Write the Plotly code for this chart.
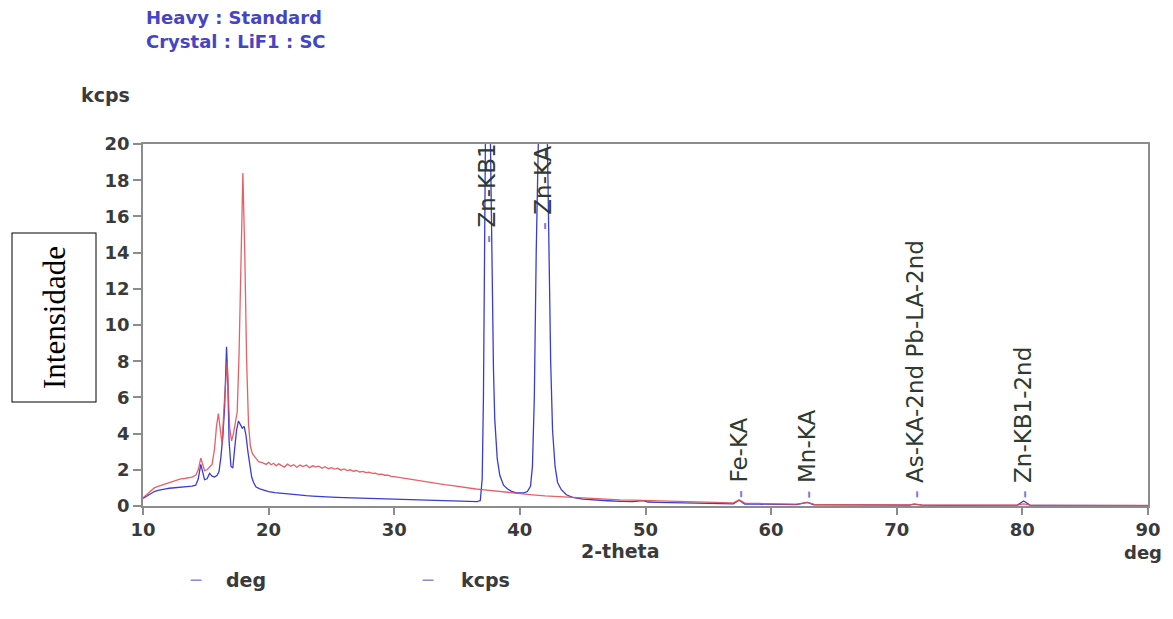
import plotly.graph_objects as go

# ---------------- data ----------------
deg_x = [10.0, 10.3, 10.6, 10.9, 11.2, 11.5, 11.8, 12.1, 12.4, 12.7, 13.0, 13.3, 13.6, 13.9,
         14.2, 14.4, 14.6, 14.75, 14.9, 15.1, 15.3, 15.5, 15.7, 15.9, 16.05, 16.2, 16.35, 16.5,
         16.65, 16.75, 16.85, 17.0, 17.15, 17.3, 17.45, 17.6, 17.75, 17.9, 18.05, 18.2, 18.35,
         18.5, 18.65, 18.8, 19.0, 19.3, 19.6, 20.0, 20.5, 21.0, 21.5, 22.0, 22.5, 23.0, 23.5,
         24.0, 25.0, 26.0, 27.0, 28.0, 29.0, 30.0, 31.0, 32.0, 33.0, 34.0, 35.0, 36.0, 36.6,
         36.85, 37.0, 37.1, 37.2, 37.3, 37.4, 37.5, 37.6, 37.7, 37.8, 37.9, 38.0, 38.2, 38.4,
         38.7, 39.0, 39.3, 39.7, 40.0, 40.3, 40.6, 40.85, 41.0, 41.15, 41.3, 41.45, 41.6, 41.8,
         42.0, 42.15, 42.3, 42.45, 42.6, 42.8, 43.0, 43.3, 43.7, 44.2, 45.0, 46.0, 47.0, 48.0,
         49.0, 49.8, 50.2, 51.0, 52.0, 53.0, 54.0, 55.0, 56.0, 57.0, 57.45, 57.9, 59.0, 60.0,
         61.0, 62.0, 62.9, 63.4, 65.0, 67.0, 69.0, 71.0, 71.4, 72.0, 74.0, 76.0, 78.0, 79.6,
         80.1, 80.6, 82.0, 84.0, 86.0, 88.0, 90.0]
deg_y = [0.42, 0.55, 0.70, 0.80, 0.86, 0.92, 0.95, 0.98, 1.00, 1.02, 1.05, 1.03, 1.08, 1.10,
         1.15, 1.50, 2.30, 1.90, 1.45, 1.50, 1.80, 1.65, 1.60, 1.70, 1.90, 2.70, 3.80, 5.50,
         8.80, 7.00, 3.60, 2.20, 2.10, 3.20, 4.20, 4.70, 4.50, 4.30, 4.40, 3.90, 3.00,
         2.30, 1.60, 1.30, 1.05, 0.95, 0.88, 0.80, 0.74, 0.70, 0.66, 0.63, 0.59, 0.57, 0.55,
         0.52, 0.49, 0.46, 0.44, 0.42, 0.40, 0.38, 0.35, 0.33, 0.31, 0.29, 0.27, 0.25, 0.24,
         0.30, 1.50, 6.00, 16.0, 24.0, 27.5, 27.0, 23.0, 17.0, 12.5, 7.50, 4.80, 2.60, 1.70,
         1.15, 0.95, 0.82, 0.72, 0.70, 0.72, 0.80, 1.10, 2.20, 6.00, 14.0, 24.0, 30.0, 32.0,
         29.0, 22.0, 14.0, 8.00, 4.20, 2.20, 1.30, 0.90, 0.62, 0.48, 0.38, 0.32, 0.29, 0.26,
         0.24, 0.30, 0.22, 0.20, 0.18, 0.16, 0.15, 0.13, 0.12, 0.12, 0.32, 0.11, 0.10, 0.09,
         0.08, 0.08, 0.20, 0.07, 0.06, 0.06, 0.05, 0.05, 0.10, 0.05, 0.04, 0.04, 0.04, 0.05,
         0.28, 0.05, 0.03, 0.03, 0.03, 0.02, 0.02]

kcps_x = [10.0, 10.3, 10.6, 10.9, 11.2, 11.5, 11.8, 12.1, 12.4, 12.7, 13.0, 13.3, 13.6, 13.9,
          14.2, 14.4, 14.6, 14.75, 14.9, 15.1, 15.3, 15.5, 15.7, 15.85, 16.0, 16.15, 16.3, 16.45,
          16.6, 16.7, 16.8, 16.9, 17.05, 17.2, 17.35, 17.5, 17.65, 17.8, 17.95, 18.1, 18.25,
          18.4, 18.55, 18.7, 18.9, 19.2, 19.5, 19.8, 20.0, 20.2, 20.4, 20.6, 20.8, 21.0, 21.25,
          21.5, 21.75, 22.0, 22.25, 22.5, 22.75, 23.0, 23.25, 23.5, 23.75, 24.0, 24.25, 24.5,
          24.75, 25.0, 25.25, 25.5, 25.75, 26.0, 26.25, 26.5, 26.75, 27.0, 27.25, 27.5, 27.75,
          28.0, 28.25, 28.5, 28.75, 29.0, 29.25, 29.5, 29.75, 30.0, 30.5, 31.0, 31.5, 32.0,
          32.5, 33.0, 33.5, 34.0, 34.5, 35.0, 35.5, 36.0, 36.5, 37.0,
          37.5, 38.0, 38.5, 39.0, 39.5, 40.0, 41.0, 42.0, 43.0, 44.0, 45.0, 46.0, 47.0, 48.0,
          49.0, 50.0, 51.0, 52.0, 53.0, 54.0, 55.0, 56.0, 57.0, 57.45, 57.9, 59.0, 60.0, 61.0,
          62.0, 62.9, 63.4, 65.0, 67.0, 69.0, 71.0, 71.4, 72.0, 74.0, 76.0, 78.0, 79.6, 80.1,
          80.6, 82.0, 84.0, 86.0, 88.0, 90.0]
kcps_y = [0.45, 0.65, 0.82, 1.00, 1.08, 1.15, 1.22, 1.30, 1.35, 1.42, 1.50, 1.52, 1.57, 1.60,
          1.70, 2.00, 2.65, 2.30, 1.95, 2.00, 2.15, 2.30, 3.20, 4.40, 5.10, 4.20, 3.40, 5.50,
          7.30, 8.00, 6.00, 4.30, 3.60, 4.00, 4.60, 5.20, 8.50, 14.5, 18.4, 14.0, 8.00,
          4.50, 3.30, 2.90, 2.70, 2.45, 2.40, 2.30, 2.41, 2.28, 2.36, 2.22, 2.33, 2.25, 2.15,
          2.31, 2.19, 2.28, 2.14, 2.26, 2.18, 2.27, 2.12, 2.22, 2.16, 2.20, 2.08, 2.17,
          2.06, 2.12, 2.04, 2.09, 1.98, 2.05, 1.96, 2.00, 1.92, 1.96, 1.88, 1.91, 1.84,
          1.87, 1.80, 1.82, 1.74, 1.76, 1.70, 1.71, 1.64, 1.62, 1.56, 1.51, 1.45, 1.41,
          1.35, 1.29, 1.24, 1.18, 1.14, 1.08, 1.03, 0.98, 0.94, 0.90,
          0.86, 0.82, 0.79, 0.76, 0.72, 0.68, 0.62, 0.56, 0.52, 0.48, 0.44, 0.40, 0.37, 0.34,
          0.32, 0.30, 0.28, 0.26, 0.24, 0.22, 0.20, 0.18, 0.17, 0.34, 0.16, 0.14, 0.12, 0.11,
          0.10, 0.20, 0.09, 0.08, 0.07, 0.06, 0.06, 0.10, 0.06, 0.05, 0.05, 0.05, 0.05, 0.12,
          0.05, 0.04, 0.04, 0.04, 0.03, 0.03]

peak_names = ["Zn-KB1", "Zn-KA", "Fe-KA", "Mn-KA", "As-KA-2nd Pb-LA-2nd", "Zn-KB1-2nd"]
peak_pos = [37.45, 41.85, 57.45, 62.9, 71.45, 80.05]
peak_label_y = [14.4, 15.1, 0.3, 0.3, 0.3, 0.3]

x_ticks = [10, 20, 30, 40, 50, 60, 70, 80, 90]
y_ticks = [0, 2, 4, 6, 8, 10, 12, 14, 16, 18, 20]

# ---------------- figure ----------------
OFF = 8  # page body margin
W, H = 1173 - 2 * OFF, 619 - 2 * OFF
ML, MT = 143 - OFF, 144 - OFF
MR = W - (1148 - OFF)
MB = H - (506 - OFF)
PW, PH = W - ML - MR, H - MT - MB


def px(xp):
    return (xp - OFF - ML) / PW


def py(yp):
    return (H - MB - (yp - OFF)) / PH


FONT = "DejaVu Sans"
TXT = "#3a3a3a"
AX = "#8c8c8c"

fig = go.Figure()
fig.add_trace(go.Scatter(x=deg_x, y=deg_y, mode="lines", name="deg",
                         line=dict(color="#3b3bd6", width=1.3)))
fig.add_trace(go.Scatter(x=kcps_x, y=kcps_y, mode="lines", name="kcps",
                         line=dict(color="rgba(226,80,86,0.9)", width=1.3)))

ann = []
# peak labels
for name, xp, yl in zip(peak_names, peak_pos, peak_label_y):
    ann.append(dict(x=xp, y=yl, xref="x", yref="y", showarrow=False,
                    text="<span style='color:#7a7ad8'>-</span> " + name,
                    textangle=-90, xanchor="center", yanchor="bottom",
                    font=dict(family=FONT, size=23, color="#2f3a30")))

# header text
for txt, yy in [("Heavy : Standard", 18), ("Crystal : LiF1 : SC", 42)]:
    ann.append(dict(x=px(144), y=py(yy), xref="paper", yref="paper", showarrow=False,
                    text=txt, xanchor="left", yanchor="middle",
                    font=dict(family=FONT, size=18, color="#4545c4", weight="bold")))
# axis unit labels
ann.append(dict(x=px(105), y=py(95), xref="paper", yref="paper", showarrow=False,
                text="kcps", xanchor="center", yanchor="middle",
                font=dict(family=FONT, size=19, color=TXT, weight="bold")))
ann.append(dict(x=px(620), y=py(551), xref="paper", yref="paper", showarrow=False,
                text="2-theta", xanchor="center", yanchor="middle",
                font=dict(family=FONT, size=19, color=TXT, weight="bold")))
ann.append(dict(x=px(1164), y=py(552), xref="paper", yref="paper", showarrow=False,
                text="deg", xanchor="right", yanchor="middle",
                font=dict(family=FONT, size=18, color=TXT, weight="bold")))
# legend-like entries
for dash_x, lab_x, lab in [(196, 246, "deg"), (428, 485, "kcps")]:
    ann.append(dict(x=px(dash_x), y=py(580), xref="paper", yref="paper", showarrow=False,
                    text="—", xanchor="center", yanchor="middle",
                    font=dict(family=FONT, size=12, color="#8a8ae0", weight="bold")))
    ann.append(dict(x=px(lab_x), y=py(580), xref="paper", yref="paper", showarrow=False,
                    text=lab, xanchor="center", yanchor="middle",
                    font=dict(family=FONT, size=19, color=TXT, weight="bold")))
# boxed y label
ann.append(dict(x=px(53.5), y=py(318), xref="paper", yref="paper", showarrow=False,
                text="Intensidade", textangle=-90, xanchor="center", yanchor="middle",
                width=164, height=79, borderpad=2, bordercolor="#000000", borderwidth=1,
                font=dict(family="Liberation Serif", size=31, color="#000000")))

fig.update_layout(
    width=W, height=H,
    margin=dict(l=ML, r=MR, t=MT, b=MB, autoexpand=False),
    paper_bgcolor="white", plot_bgcolor="white",
    showlegend=False,
    annotations=ann,
    xaxis=dict(range=[10, 90], tickvals=x_ticks, ticks="outside", ticklen=7,
               tickcolor=AX, tickwidth=1.5, showline=True, linecolor=AX, linewidth=1.5,
               mirror=True, showgrid=False, zeroline=False,
               tickfont=dict(family=FONT, size=18, color=TXT, weight="bold")),
    yaxis=dict(range=[0, 20], tickvals=y_ticks, ticks="outside", ticklen=8,
               tickcolor=AX, tickwidth=1.5, showline=True, linecolor=AX, linewidth=1.5,
               mirror=True, showgrid=False, zeroline=False,
               tickfont=dict(family=FONT, size=18, color=TXT, weight="bold")),
)

fig.write_html("out.html")
